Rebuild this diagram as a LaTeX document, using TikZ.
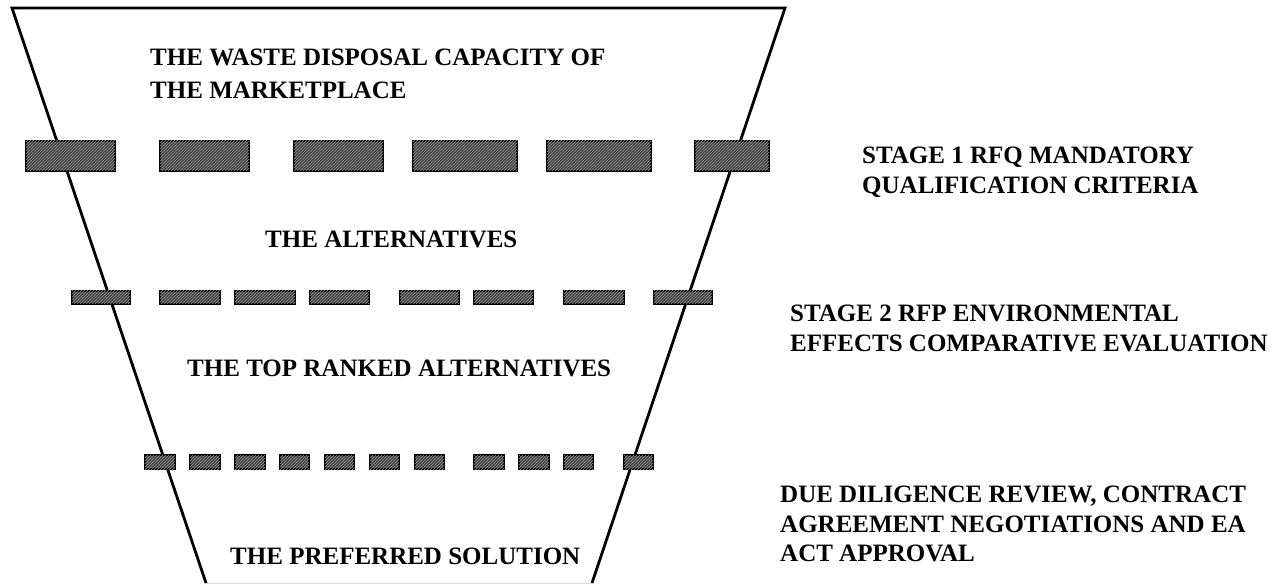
\documentclass[tikz,border=0pt]{standalone}
\usepackage{fontspec}
\setmainfont{Liberation Serif}
\usetikzlibrary{patterns}
\begin{document}
\begin{tikzpicture}[x=1pt,y=-1pt,
  bar/.style={draw=black, line width=2.4pt, fill=black!75, postaction={pattern=north east lines, pattern color=black!40}},
  funnelline/.style={draw=black, line width=2.8pt, line join=miter},
  lbl/.style={font=\fontsize{25}{29.5}\selectfont\bfseries, anchor=north west, inner sep=0pt, align=left}]
\useasboundingbox (0,0) rectangle (1280,585);
% funnel
\draw[funnelline] (206,583) -- (12,8) -- (785,8) -- (592,583);
\draw[black!15, line width=1pt] (206,583.5) -- (592,583.5);
% stage bars
\foreach \a/\b in {26/115,160/249,294/383,413/517,547/651,695/769}
  \draw[bar] (\a,141) rectangle (\b,171);
\foreach \a/\b in {72/130,160/220,235/295,310/369,400/459,474/533,564/624,654/712}
  \draw[bar] (\a,291) rectangle (\b,304);
\foreach \a/\b in {145/175,190/220,235/265,280/309,325/354,370/399,415/444,474/504,519/549,564/593,624/653}
  \draw[bar] (\a,455) rectangle (\b,469);
% texts inside funnel
\node[lbl, font=\fontsize{25}{33}\selectfont\bfseries] (cap) at (150,49) {THE WASTE DISPOSAL CAPACITY OF\\THE MARKETPLACE};
\node[lbl] (alt) at (265,231) {THE ALTERNATIVES};
\node[lbl] (top) at (187,360) {THE TOP RANKED ALTERNATIVES};
\node[lbl] (pref) at (230,548) {THE PREFERRED SOLUTION};
% stage texts
\node[lbl] (s1) at (862,147) {STAGE 1 RFQ MANDATORY\\QUALIFICATION CRITERIA};
\node[lbl] (s2) at (790,305) {STAGE 2 RFP ENVIRONMENTAL\\EFFECTS COMPARATIVE EVALUATION};
\node[lbl] (s3) at (780,486) {DUE DILIGENCE REVIEW, CONTRACT\\AGREEMENT NEGOTIATIONS AND EA\\ACT APPROVAL};
\end{tikzpicture}
\end{document}
